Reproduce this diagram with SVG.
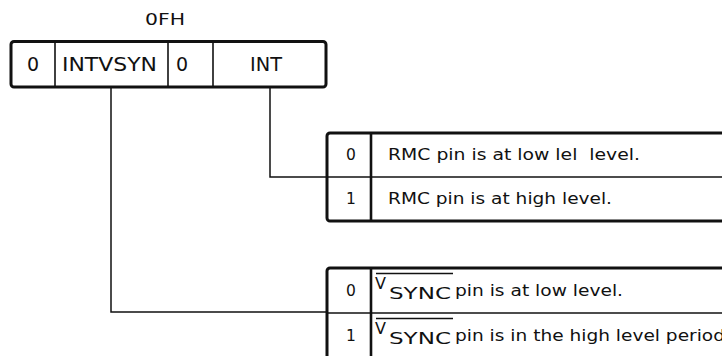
<svg xmlns="http://www.w3.org/2000/svg" width="722" height="356" viewBox="0 0 722 356">
<style>
  text { font-family: "DejaVu Sans", "Liberation Sans", sans-serif; fill: #111; }
  .hdr { font-size: 15px; }
  .reg { font-size: 19px; }
  .tb { font-size: 15.5px; }
  .v { font-size: 16px; }
  .sub { font-size: 16px; }
  .frame { fill: #fff; stroke: #111; stroke-width: 3; }
  .div { stroke: #111; stroke-width: 1.6; fill: none; }
  .col { stroke: #111; stroke-width: 2.6; fill: none; }
  .conn { stroke: #111; stroke-width: 1.5; fill: none; }
  .ovl { stroke: #111; stroke-width: 1.3; }
</style>
<rect width="722" height="356" fill="#fff"/>
<g id="connectors">
  <path class="conn" d="M111 87 V312 H328"/>
  <path class="conn" d="M270 87 V177 H328"/>
</g>
<g id="register">
  <text class="hdr" x="145" y="25" textLength="40" lengthAdjust="spacingAndGlyphs">0FH</text>
  <rect class="frame" x="11" y="41.5" width="315" height="45.5" rx="3"/>
  <line class="div" x1="55" y1="42" x2="55" y2="87"/>
  <line class="div" x1="168" y1="42" x2="168" y2="87"/>
  <line class="div" x1="213" y1="42" x2="213" y2="87"/>
  <text class="reg" x="27" y="71">0</text>
  <text class="reg" x="62" y="71" textLength="95" lengthAdjust="spacingAndGlyphs">INTVSYN</text>
  <text class="reg" x="176" y="71">0</text>
  <text class="reg" x="250" y="71" textLength="32" lengthAdjust="spacingAndGlyphs">INT</text>
</g>
<g id="int-table">
  <rect class="frame" x="327" y="133" width="420" height="88" rx="3"/>
  <line class="col" x1="371" y1="133" x2="371" y2="221"/>
  <line class="div" x1="327" y1="177" x2="722" y2="177"/>
  <text class="tb" x="346" y="160">0</text>
  <text class="tb" x="388" y="160" xml:space="preserve" textLength="252" lengthAdjust="spacingAndGlyphs">RMC pin is at low lel  level.</text>
  <text class="tb" x="346" y="204">1</text>
  <text class="tb" x="388" y="204" textLength="224" lengthAdjust="spacingAndGlyphs">RMC pin is at high level.</text>
</g>
<g id="vsync-table">
  <rect class="frame" x="327" y="268" width="420" height="110" rx="3"/>
  <line class="col" x1="371" y1="268" x2="371" y2="378"/>
  <line class="div" x1="327" y1="313" x2="722" y2="313"/>
  <text class="tb" x="346" y="296">0</text>
  <line class="ovl" x1="376" y1="273.5" x2="453" y2="273.5"/>
  <text class="v" x="375" y="289">V</text>
  <text class="sub" x="389" y="299" textLength="62" lengthAdjust="spacingAndGlyphs">SYNC</text>
  <text class="tb" x="455" y="296" textLength="168" lengthAdjust="spacingAndGlyphs">pin is at low level.</text>
  <text class="tb" x="346" y="341">1</text>
  <line class="ovl" x1="376" y1="318.5" x2="453" y2="318.5"/>
  <text class="v" x="375" y="334">V</text>
  <text class="sub" x="389" y="344" textLength="62" lengthAdjust="spacingAndGlyphs">SYNC</text>
  <text class="tb" x="455" y="341" textLength="270" lengthAdjust="spacingAndGlyphs">pin is in the high level period</text>
</g>
</svg>
